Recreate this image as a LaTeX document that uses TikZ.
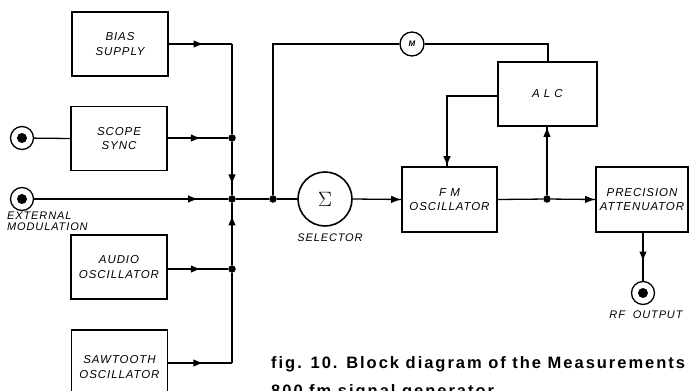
\documentclass[tikz,border=0pt]{standalone}
\usepackage{fontspec}
\setmainfont{Liberation Sans}
\newfontfamily\lblfont[LetterSpace=8]{Liberation Sans}
\newfontfamily\capfont[LetterSpace=12]{Liberation Sans}
\usetikzlibrary{arrows.meta,decorations.markings}
\tikzset{
  box/.style={draw, line width=1.6pt, minimum width=96pt, minimum height=64pt, align=center, inner sep=0pt,
    font=\lblfont\itshape\fontsize{11.5}{14.5}\selectfont},
  conn/.style={line width=1.3pt},
  dotnode/.style={circle, fill, inner sep=0pt, minimum size=7.5pt},
  jack/.style={circle, draw, line width=1.3pt, minimum size=23pt, inner sep=0pt,
    path picture={\fill (path picture bounding box.center) circle (5pt);}},
  marr/.style={postaction={decorate}, decoration={markings,
    mark=at position #1 with {\arrow{Latex[length=10pt,width=7.5pt]}}}},
  lbl/.style={font=\lblfont\itshape\fontsize{11}{10.5}\selectfont, inner sep=0pt},
  captxt/.style={anchor=base west, inner sep=0pt, font=\capfont\bfseries\fontsize{16.5}{20}\selectfont},
}
\begin{document}
\begin{tikzpicture}[x=1pt,y=-1pt]
\clip (0,0) rectangle (694,391);
\useasboundingbox (0,0) rectangle (694,391);
% boxes
\node[box] (bias) at (120,44) {BIAS\\SUPPLY};
\node[box] (scope) at (119,138.5) {SCOPE\\SYNC};
\node[box] (audio) at (119,267) {AUDIO\\OSCILLATOR};
\node[box, minimum height=74pt] (saw) at (119.5,367) {SAWTOOTH\\OSCILLATOR};
\node[box, minimum width=95pt, minimum height=65pt] (fm) at (449.5,199.5) {F M\\OSCILLATOR};
\node[box, minimum width=99pt, minimum height=64pt] (alc) at (547.5,94) {A L C};
\node[box, minimum width=92pt, minimum height=65pt] (pa) at (642,199.5) {PRECISION\\ATTENUATOR};
% jacks
\node[jack] (jscope) at (22,138) {};
\node[jack] (jext) at (22,199) {};
\node[jack] (jrf) at (643,293) {};
% circles
\node[circle, draw, line width=1.6pt, minimum size=54pt, inner sep=0pt] (sum) at (325,199) {\fontsize{22}{22}\selectfont$\Sigma$};
\node[circle, draw, line width=1.3pt, minimum size=24pt, inner sep=0pt,
  font=\bfseries\itshape\fontsize{8}{8}\selectfont] (m) at (412,44) {M};
% junction dots
\node[dotnode] (j1) at (232,138) {};
\node[dotnode] (j2) at (232,199) {};
\node[dotnode] (j3) at (232,269) {};
\node[dotnode] (j4) at (273,199) {};
\node[dotnode] (j5) at (547,199) {};
\coordinate (b0) at (232,44);
\coordinate (s0) at (232,363);
\coordinate (m0) at (273,44);
\coordinate (a0) at (548,44);
\coordinate (f0) at (447,96);
% labels
\node[lbl, align=left, anchor=north west] (extlbl) at (7,212) {EXTERNAL\\MODULATION};
\node[lbl] (sellbl) at (330,238) {SELECTOR};
\node[lbl] (rflbl) at (646,315) {RF\ \ OUTPUT};
\node[captxt] (cap1) at (271,368) {fig. 10. Block diagram of the Measurements};
\node[captxt] (cap2) at (271,396) {800 fm signal generator.};
% connectors
\draw[conn, marr=0.55] (bias.east) -- (b0);
\draw[conn] (b0) -- (j1);
\draw[conn] (jscope) -- (scope.west);
\draw[conn, marr=0.55] (scope.east |- j1) -- (j1);
\draw[conn, marr=0.8] (j1) -- (j2);
\draw[conn, marr=0.8] (j3) -- (j2);
\draw[conn, marr=0.55] (audio.east |- j3) -- (j3);
\draw[conn, marr=0.55] (saw.east |- s0) -- (s0);
\draw[conn] (s0) -- (j3);
\draw[conn, marr=-30pt] (jext) -- (j2);
\draw[conn] (j2) -- (j4);
\draw[conn] (j4) -- (sum.west);
\draw[conn] (j4) -- (m0) -- (m.west);
\draw[conn] (m.east) -- (a0) -- (alc.north -| a0);
\draw[conn, marr=1] (alc.west |- f0) -- (f0) -- (fm.north -| f0);
\draw[conn, marr=1] (sum.east) -- (fm.west);
\draw[conn] (fm.east) -- (j5);
\draw[conn, marr=1] (j5) -- (pa.west);
\draw[conn, marr=1] (j5) -- (alc.south -| j5);
\draw[conn, marr=0.6] (pa.south -| jrf) -- (jrf);
\end{tikzpicture}
\end{document}
